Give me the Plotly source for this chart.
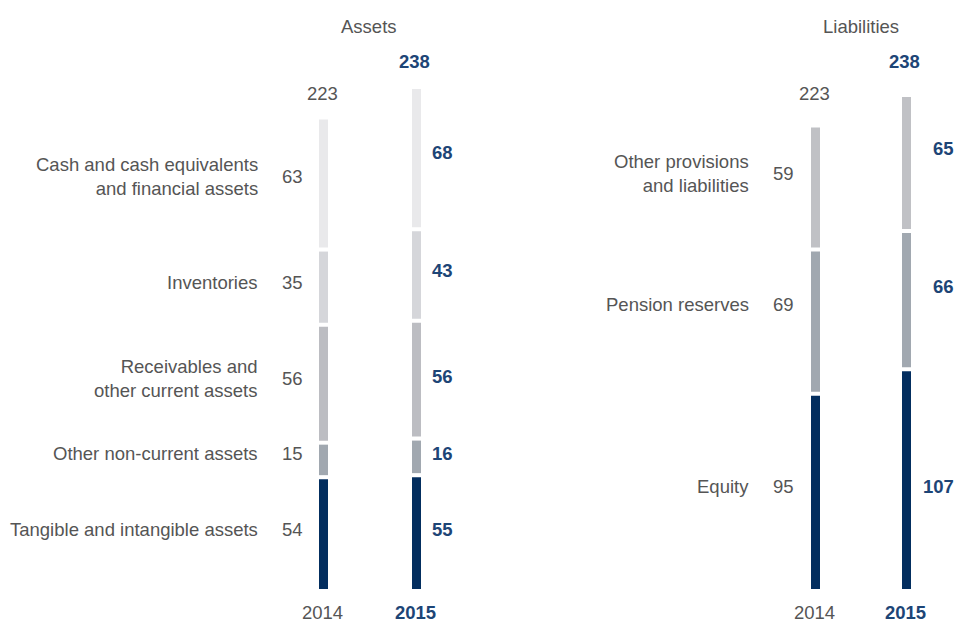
import plotly.graph_objects as go

# ---------------- data ----------------
years = ["2014", "2015"]

asset_labels = [
    "Tangible and intangible assets",
    "Other non-current assets",
    "Receivables and<br>other current assets",
    "Inventories",
    "Cash and cash equivalents<br>and financial assets",
]
assets_2014 = [54, 15, 56, 35, 63]
assets_2015 = [55, 16, 56, 43, 68]
asset_totals = [223, 238]

liab_labels = [
    "Equity",
    "Pension reserves",
    "Other provisions<br>and liabilities",
]
liab_2014 = [95, 69, 59]
liab_2015 = [107, 66, 65]
liab_totals = [223, 238]

# ---------------- style ----------------
asset_colors = ["#032e5f", "#a1a8b0", "#bcbdc2", "#d5d6da", "#e9e9eb"]
liab_colors = ["#032e5f", "#a1a8b0", "#c0c1c5"]
GRAY = "#555555"
NAVY = "#1d4576"
FONT = "Liberation Sans, Arial, Helvetica, sans-serif"
FS = 18.5

W, H = 956, 622
BOTTOM_PX = 589          # pixel row of value 0
SCALE = 2.034            # px per unit
GAP = 4 / SCALE          # white gap between segments (in units)
Y_MAX = BOTTOM_PX / SCALE

# panel geometry: (center of 2014 bar px, px per category)
PANELS = {"a": (323.5, 93.0), "l": (815.5, 91.0)}


def px_x(px):
    return px / W


def px_y(py):
    return (H - py) / H


fig = go.Figure()


def add_stack(vals14, vals15, colors, xa, ya, width):
    b14 = b15 = 0.0
    centers14, centers15 = [], []
    for i, (v14, v15) in enumerate(zip(vals14, vals15)):
        fig.add_trace(go.Bar(
            x=years, y=[v14, v15], base=[b14, b15],
            marker=dict(color=colors[i], line=dict(width=0)),
            width=width, xaxis=xa, yaxis=ya,
            hoverinfo="skip", showlegend=False,
        ))
        centers14.append(b14 + v14 / 2)
        centers15.append(b15 + v15 / 2)
        b14 += v14 + GAP
        b15 += v15 + GAP
    return centers14, centers15


ca14, ca15 = add_stack(assets_2014, assets_2015, asset_colors, "x", "y", 9 / 93)
cl14, cl15 = add_stack(liab_2014, liab_2015, liab_colors, "x2", "y2", 9 / 91)

ann = []


def txt(text, x, y, yref, xanchor="center", bold=False, yshift=0):
    ann.append(dict(
        text=f"<b>{text}</b>" if bold else text,
        x=x, y=y, xref="paper", yref=yref, xanchor=xanchor, yanchor="middle",
        yshift=yshift, showarrow=False,
        align="right" if xanchor == "right" else "center",
        font=dict(family=FONT, size=FS, color=NAVY if bold else GRAY),
    ))


# vertical fine-tuning of label rows (px, up is positive)
sh_a14 = [4.7, 6.3, 5.7, 4.2, 6.5]
sh_a15 = [3.5, 3.2, 2.7, 4.0, 6.0]
sh_l14 = [5.4, 17.6, 14.4]
sh_l15 = [-6.8, 13.3, 15.0]

for i, lab in enumerate(asset_labels):
    txt(lab, px_x(259.5), ca14[i], "y", "right", yshift=sh_a14[i])
    txt(str(assets_2014[i]), px_x(304.5), ca14[i], "y", "right", yshift=sh_a14[i])
    txt(str(assets_2015[i]), px_x(429.5), ca15[i], "y", "left", bold=True, yshift=sh_a15[i])

for i, lab in enumerate(liab_labels):
    txt(lab, px_x(750.5), cl14[i], "y2", "right", yshift=sh_l14[i])
    txt(str(liab_2014[i]), px_x(795.5), cl14[i], "y2", "right", yshift=sh_l14[i])
    txt(str(liab_2015[i]), px_x(955.5), cl15[i], "y2", "right", bold=True, yshift=sh_l15[i])

# totals, year labels, titles
for panel, totals in (("a", asset_totals), ("l", liab_totals)):
    c0, unit = PANELS[panel]
    txt(str(totals[0]), px_x(c0 - 1.5), px_y(93.3), "paper")
    txt(str(totals[1]), px_x(c0 + unit - 2), px_y(61.0), "paper", bold=True)
    txt(years[0], px_x(c0 - 1.5), px_y(612.5), "paper")
    txt(years[1], px_x(c0 + unit - 1.5), px_y(612.5), "paper", bold=True)

txt("Assets", px_x(368.5), px_y(26), "paper")
txt("Liabilities", px_x(860.5), px_y(26), "paper")


def xdom(panel):
    c0, unit = PANELS[panel]
    return [(c0 - 0.5 * unit) / W, (c0 + 1.5 * unit) / W]


axis_common = dict(showgrid=False, zeroline=False, showticklabels=False,
                   showline=False, ticks="", fixedrange=True)
ydom = [(H - BOTTOM_PX) / H, 1]

fig.update_layout(
    width=W, height=H,
    margin=dict(l=0, r=0, t=0, b=0),
    paper_bgcolor="white", plot_bgcolor="white",
    barmode="overlay",
    showlegend=False,
    xaxis=dict(domain=xdom("a"), type="category", range=[-0.5, 1.5], anchor="y", **axis_common),
    yaxis=dict(domain=ydom, range=[0, Y_MAX], anchor="x", **axis_common),
    xaxis2=dict(domain=xdom("l"), type="category", range=[-0.5, 1.5], anchor="y2", **axis_common),
    yaxis2=dict(domain=ydom, range=[0, Y_MAX], anchor="x2", **axis_common),
    annotations=ann,
    font=dict(family=FONT, size=FS, color=GRAY),
)

fig.write_html("out.html")
